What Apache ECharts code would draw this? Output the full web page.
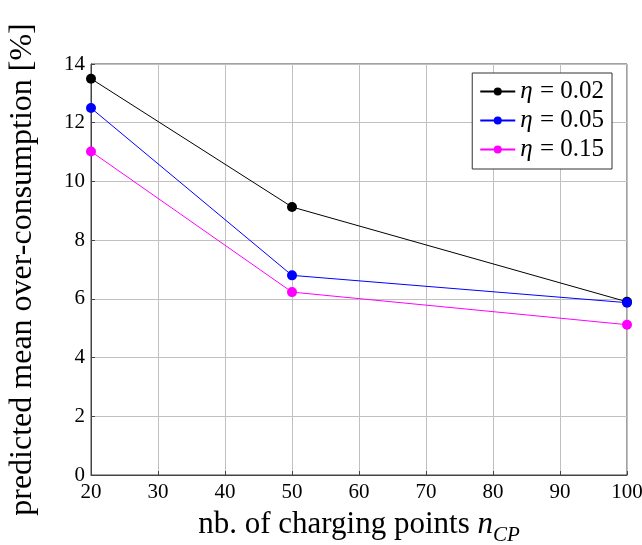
<!DOCTYPE html>
<html><head><meta charset="utf-8">
<script src="https://cdn.jsdelivr.net/npm/echarts@6/dist/echarts.min.js"></script>
<style>html,body{margin:0;padding:0;background:#fff}#c{width:642px;height:545px}</style>
</head><body><div id="c"></div>
<script>
const xValues = [20, 50, 100];
const seriesNames = ['η = 0.02', 'η = 0.05', 'η = 0.15'];
const etaValues = ['0.02', '0.05', '0.15'];
const eta002 = [13.5, 9.13, 5.9];
const eta005 = [12.5, 6.8, 5.87];
const eta015 = [11.02, 6.23, 5.12];
const colors = ['#000000', '#0000ff', '#ff00ff'];
const allData = [eta002, eta005, eta015];

const font = 'Liberation Serif';
const chart = echarts.init(document.getElementById('c'));
chart.setOption({
  animation: false,
  grid: {left: 91, right: 15, top: 64, bottom: 70, show: true, borderColor: '#444', borderWidth: 1,
         containLabel: false, outerBoundsMode: 'none'},
  legend: {
    right: 30, top: 73, orient: 'vertical', backgroundColor: '#fff', borderColor: '#333', borderWidth: 1,
    padding: [6, 8, 7, 7], itemGap: 4, itemWidth: 35, itemHeight: 10, itemStyle: {borderWidth: 0},
    data: seriesNames,
    formatter: function (n) { const i = seriesNames.indexOf(n); return '{e|η}{t| = ' + etaValues[i] + '}'; },
    textStyle: {rich: {
      e: {fontFamily: font, fontStyle: 'italic', fontSize: 25, color: '#000', padding: [0, 1, 0, 0]},
      t: {fontFamily: font, fontSize: 25, color: '#000'}
    }}
  },
  xAxis: {
    type: 'value', min: 20, max: 100, interval: 10,
    axisLine: {show: true, lineStyle: {color: '#444'}},
    axisTick: {show: true, inside: true, length: 4, lineStyle: {color: '#444'}},
    splitLine: {show: true, lineStyle: {color: '#c0c0c0'}},
    axisLabel: {fontFamily: font, fontSize: 21, color: '#000', margin: 7},
    name: '{a|nb. of charging points }{i|n}{s|CP}',
    nameLocation: 'middle', nameGap: 34,
    nameTextStyle: {rich: {
      a: {fontFamily: font, fontSize: 31, color: '#000', verticalAlign: 'top', padding: [0,0,6,0]},
      i: {fontFamily: font, fontSize: 31, fontStyle: 'italic', color: '#000', verticalAlign: 'top', padding: [0,0,6,0]},
      s: {fontFamily: font, fontSize: 21, fontStyle: 'italic', color: '#000', verticalAlign: 'bottom'}
    }}
  },
  yAxis: {
    type: 'value', min: 0, max: 14, interval: 2,
    axisLine: {show: true, lineStyle: {color: '#444'}},
    axisTick: {show: true, inside: true, length: 4, lineStyle: {color: '#444'}},
    splitLine: {show: true, lineStyle: {color: '#c0c0c0'}},
    axisLabel: {fontFamily: font, fontSize: 21, color: '#000', margin: 6},
    name: 'predicted mean over-consumption [%]',
    nameLocation: 'middle', nameGap: 52,
    nameTextStyle: {fontFamily: font, fontSize: 32, color: '#000'}
  },
  series: seriesNames.map((n, i) => ({
    name: n, type: 'line', data: xValues.map((x, j) => [x, allData[i][j]]),
    symbol: 'circle', symbolSize: 10, showSymbol: true,
    itemStyle: {color: colors[i]},
    lineStyle: {color: colors[i], width: 1}
  }))
});
</script></body></html>
